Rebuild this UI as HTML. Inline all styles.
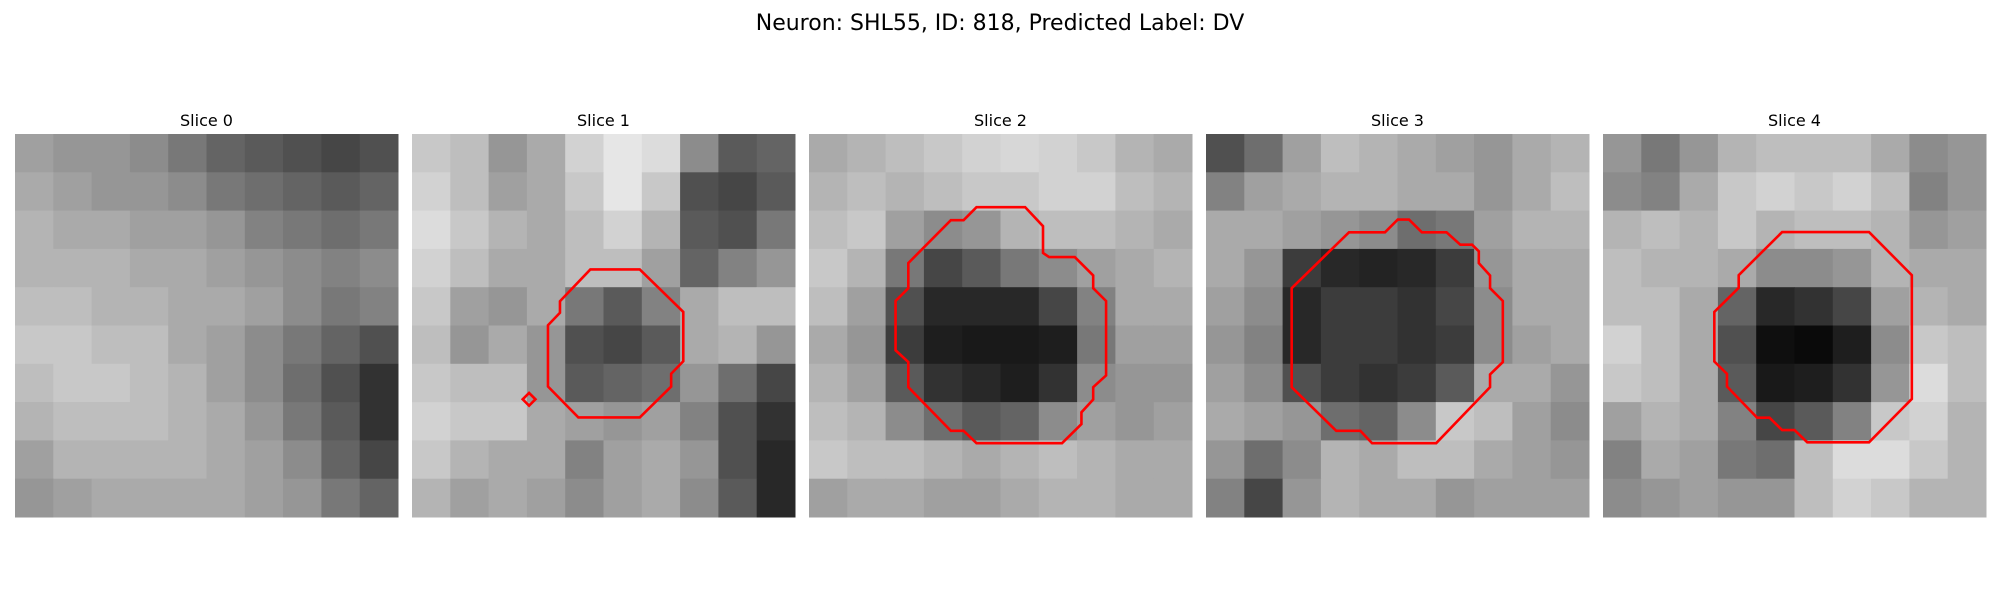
<!DOCTYPE html>
<html><head><meta charset="utf-8">
<style>
html,body{margin:0;padding:0;background:#fff;}
svg{display:block;font-family:"DejaVu Sans","Liberation Sans",sans-serif;}
</style></head>
<body>
<svg id="fig" width="2000" height="600" viewBox="0 0 2000 600">
<text x="1000" y="30" font-size="22" text-anchor="middle" fill="#000">Neuron: SHL55, ID: 818, Predicted Label: DV</text>
</svg>
<script>
const sliceTitles = ["Slice 0","Slice 1","Slice 2","Slice 3","Slice 4"];
const gridSlice0 = [
[160,150,150,140,120,100,90,80,70,80],
[170,160,150,150,140,120,110,100,90,100],
[180,170,170,160,160,150,130,120,110,120],
[180,180,180,170,170,160,150,140,130,140],
[190,190,180,180,170,170,160,140,120,130],
[200,200,190,190,170,160,140,120,100,80],
[190,200,200,190,180,160,140,110,80,50],
[180,190,190,190,180,170,150,120,90,50],
[160,180,180,180,180,170,160,140,100,70],
[150,160,170,170,170,170,160,150,120,100]];
const gridSlice1 = [
[200,190,150,170,210,230,220,140,90,100],
[210,190,160,170,200,230,200,80,70,90],
[220,200,180,170,190,210,180,90,80,120],
[210,190,170,170,190,190,160,100,130,150],
[200,160,150,170,120,90,130,170,190,190],
[190,150,170,150,80,70,90,170,180,150],
[200,190,190,150,90,100,110,150,110,70],
[210,200,200,170,160,150,160,130,80,50],
[200,180,170,170,130,160,170,150,80,40],
[180,160,170,160,140,160,170,140,90,40]];
const gridSlice2 = [
[170,180,190,200,210,215,210,200,180,170],
[180,190,180,190,200,200,210,210,190,180],
[190,200,160,140,150,180,190,190,180,170],
[200,180,120,70,90,120,140,160,170,180],
[190,160,80,40,40,40,70,130,170,170],
[170,150,60,30,25,25,30,120,160,160],
[180,160,90,50,40,30,50,140,150,150],
[190,180,140,110,90,100,140,160,150,160],
[200,190,190,180,170,180,190,180,170,170],
[160,170,170,160,160,170,180,180,170,170]];
const gridSlice3 = [
[80,110,160,190,180,170,160,150,170,180],
[130,160,170,180,180,170,170,150,170,190],
[170,170,160,150,140,110,120,160,180,180],
[170,150,60,40,35,40,60,150,170,170],
[160,140,40,60,60,50,70,140,170,170],
[150,130,40,60,60,50,60,140,160,170],
[160,140,80,60,50,60,90,170,170,150],
[170,160,150,110,100,140,200,190,160,140],
[150,110,140,180,170,190,190,170,160,150],
[130,70,150,180,170,170,150,160,160,160]];
const gridSlice4 = [
[150,120,150,180,190,190,190,170,140,150],
[140,130,170,200,210,200,210,190,130,150],
[180,190,180,200,180,190,190,180,150,160],
[190,180,180,170,140,140,150,180,170,170],
[190,190,170,100,40,50,70,160,180,170],
[210,190,170,80,15,10,30,140,200,190],
[200,190,170,90,25,30,50,150,220,190],
[160,180,170,130,70,90,130,200,210,180],
[130,170,160,120,110,190,220,220,200,180],
[140,150,160,150,150,190,210,200,180,180]];
const contour1 = [[13.97,10.61],[17.84,10.61],[21.25,13.94],[21.25,17.8],[20.3,18.78],[20.3,19.78],[17.84,22.2],[13.03,22.2],[10.65,19.78],[10.65,14.98],[11.59,14.0],[11.59,13.1]];
const contour1b = [[9.17,20.28],[9.67,20.78],[9.17,21.28],[8.67,20.78]];
const contour2 = [[13.12,5.73],[16.93,5.73],[18.33,7.22],[18.33,9.32],[18.81,9.64],[20.82,9.64],[22.26,11.08],[22.26,12.08],[23.27,13.08],[23.27,18.91],[22.26,19.83],[22.26,20.8],[21.34,21.8],[21.34,22.72],[19.82,24.22],[13.12,24.22],[12.11,23.25],[11.11,23.25],[7.78,19.83],[7.78,17.86],[6.78,16.94],[6.78,13.08],[7.78,12.08],[7.78,10.11],[11.11,6.75],[12.11,6.75]];
const contour3 = [[15.02,6.7],[15.9,6.7],[16.91,7.7],[18.84,7.7],[19.92,8.67],[20.84,8.67],[21.37,9.19],[21.37,10.11],[22.25,11.08],[22.25,12.08],[23.25,13.08],[23.25,17.86],[22.25,18.83],[22.25,19.83],[18.03,24.22],[13.01,24.22],[12.09,23.25],[10.2,23.25],[6.71,19.83],[6.71,12.08],[11.2,7.7],[14.02,7.7]];
const contour4 = [[14.03,7.68],[20.84,7.68],[24.19,11.06],[24.19,20.75],[20.84,24.15],[16.0,24.15],[15.0,23.19],[14.03,23.19],[13.04,22.22],[12.07,22.22],[9.71,19.78],[9.71,18.78],[8.72,17.82],[8.72,13.94],[10.63,12.05],[10.63,11.06]];

const grids=[gridSlice0,gridSlice1,gridSlice2,gridSlice3,gridSlice4];
const contours=[[],[contour1,contour1b],[contour2],[contour3],[contour4]];
const NS="http://www.w3.org/2000/svg";
const svg=document.getElementById('fig');
const panelLeft=15, pitch=397, panelTop=134, panelSize=383, units=30;
function xScale(p,u){return panelLeft+p*pitch+u*panelSize/units;}
function yScale(u){return panelTop+u*panelSize/units;}
grids.forEach((g,p)=>{
  const grp=document.createElementNS(NS,'g');
  
  
  const t=document.createElementNS(NS,'text');
  t.setAttribute('x',xScale(p,15));t.setAttribute('y',126);
  t.setAttribute('font-size','16');t.setAttribute('text-anchor','middle');
  t.textContent=sliceTitles[p];
  
  
  grp.appendChild(t);
  const n=g.length, cu=units/n;
  g.forEach((row,r)=>row.forEach((v,c)=>{
    const rc=document.createElementNS(NS,'rect');
    const x0=xScale(p,c*cu), x1=xScale(p,(c+1)*cu), y0=yScale(r*cu), y1=yScale((r+1)*cu);
    rc.setAttribute('x',x0);rc.setAttribute('y',y0);
    rc.setAttribute('width',x1-x0+0.5);rc.setAttribute('height',y1-y0+0.5);
    rc.setAttribute('fill',`rgb(${v},${v},${v})`);
    
    
    grp.appendChild(rc);
  }));
  contours[p].forEach(pts=>{
    const pg=document.createElementNS(NS,'polygon');
    pg.setAttribute('points',pts.map(q=>xScale(p,q[0])+','+yScale(q[1])).join(' '));
    pg.setAttribute('fill','none');pg.setAttribute('stroke','#ff0000');pg.setAttribute('stroke-width','2.6');
    
    
    grp.appendChild(pg);
  });
  svg.appendChild(grp);
});
</script>
</body></html>
